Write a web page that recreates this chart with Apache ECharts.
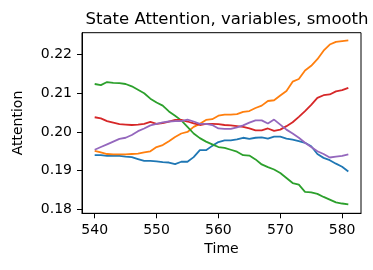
<!DOCTYPE html>
<html>
<head>
<meta charset="utf-8">
<script src="https://cdn.jsdelivr.net/npm/echarts@6/dist/echarts.min.js"></script>
<style>
html,body{margin:0;padding:0;background:#fff;}
#chart{width:373px;height:270px;}
</style>
</head>
<body>
<div id="chart"></div>
<script>
const times = [540,541,542,543,544,545,546,547,548,549,550,551,552,553,554,555,556,557,558,559,560,561,562,563,564,565,566,567,568,569,570,571,572,573,574,575,576,577,578,579,580,581];
const blue = [0.1940,0.1940,0.1938,0.1939,0.1938,0.1936,0.1935,0.1930,0.1925,0.1925,0.1924,0.1922,0.1921,0.1917,0.1923,0.1923,0.1935,0.1953,0.1953,0.1964,0.1974,0.1978,0.1978,0.1981,0.1985,0.1982,0.1985,0.1986,0.1983,0.1988,0.1988,0.1983,0.1980,0.1976,0.1972,0.1963,0.1943,0.1933,0.1927,0.1918,0.1910,0.1898];
const orange = [0.1951,0.1947,0.1943,0.1942,0.1942,0.1942,0.1943,0.1944,0.1947,0.1950,0.1961,0.1966,0.1976,0.1987,0.1996,0.2000,0.2013,0.2021,0.2031,0.2033,0.2042,0.2045,0.2045,0.2046,0.2052,0.2054,0.2062,0.2068,0.2080,0.2082,0.2094,0.2106,0.2130,0.2137,0.2159,0.2171,0.2188,0.2210,0.2226,0.2233,0.2235,0.2237];
const green = [0.2124,0.2121,0.2129,0.2127,0.2126,0.2124,0.2118,0.2109,0.2100,0.2086,0.2076,0.2068,0.2053,0.2042,0.2030,0.2013,0.1996,0.1984,0.1975,0.1968,0.1961,0.1959,0.1954,0.1949,0.1940,0.1939,0.1929,0.1916,0.1909,0.1903,0.1894,0.1881,0.1868,0.1864,0.1845,0.1844,0.1840,0.1832,0.1825,0.1818,0.1815,0.1813];
const red = [0.2038,0.2035,0.2028,0.2024,0.2020,0.2019,0.2018,0.2019,0.2021,0.2026,0.2021,0.2023,0.2027,0.2031,0.2031,0.2027,0.2022,0.2018,0.2021,0.2021,0.2020,0.2018,0.2017,0.2015,0.2013,0.2009,0.2004,0.2004,0.2009,0.2003,0.2006,0.2015,0.2025,0.2039,0.2054,0.2070,0.2088,0.2095,0.2097,0.2105,0.2108,0.2114];
const purple = [0.1954,0.1961,0.1968,0.1975,0.1982,0.1985,0.1992,0.2002,0.2009,0.2017,0.2021,0.2025,0.2027,0.2028,0.2028,0.2032,0.2027,0.2021,0.2021,0.2018,0.2009,0.2008,0.2008,0.2012,0.2017,0.2024,0.2030,0.2030,0.2022,0.2032,0.2019,0.2006,0.1996,0.1985,0.1972,0.1961,0.1950,0.1943,0.1934,0.1936,0.1938,0.1942];
const xTicks = [540,550,560,570,580];
const yTicks = [0.18,0.19,0.20,0.21,0.22];

const colors = ['#1f77b4','#ff7f0e','#2ca02c','#d62728','#9467bd'];
const seriesData = [blue, orange, green, red, purple];
const font = 'DejaVu Sans';

const chart = echarts.init(document.getElementById('chart'), null, {renderer:'canvas'});
chart.setOption({
  animation:false,
  backgroundColor:'#fff',
  title:{
    text:'State Attention, variables, smooth',
    left:222, textAlign:'center', top:6,
    textStyle:{fontFamily:font, fontSize:16.5, fontWeight:'normal', color:'#000'}
  },
  grid:{left:82, right:12, top:32.7, bottom:56.7, show:true, borderColor:'#000', borderWidth:1, backgroundColor:'transparent'},
  xAxis:{
    type:'value', min:537.95, max:583.05,
    name:'Time', nameLocation:'middle', nameGap:29,
    nameTextStyle:{fontFamily:font, fontSize:14, color:'#000'},
    axisLine:{show:true, lineStyle:{color:'#000', width:1}},
    axisTick:{show:true, inside:false, length:5, customValues:xTicks, lineStyle:{color:'#000'}},
    axisLabel:{customValues:xTicks, fontFamily:font, fontSize:14, color:'#000', margin:10},
    splitLine:{show:false}
  },
  yAxis:{
    type:'value', min:0.17897, max:0.22566,
    name:'Attention', nameLocation:'middle', nameGap:57, nameRotate:90,
    nameTextStyle:{fontFamily:font, fontSize:14, color:'#000'},
    axisLine:{show:true, lineStyle:{color:'#000', width:1}},
    axisTick:{show:true, inside:false, length:5, customValues:yTicks, lineStyle:{color:'#000'}},
    axisLabel:{customValues:yTicks, fontFamily:font, fontSize:14, color:'#000', margin:10,
      formatter:function(v){return v.toFixed(2);}},
    splitLine:{show:false}
  },
  series: seriesData.map(function(d,i){
    return {
      type:'line', showSymbol:false, symbol:'none',
      data: times.map(function(t,j){return [t,d[j]];}),
      lineStyle:{color:colors[i], width:1.8},
      itemStyle:{color:colors[i]}
    };
  })
});
</script>
</body>
</html>
